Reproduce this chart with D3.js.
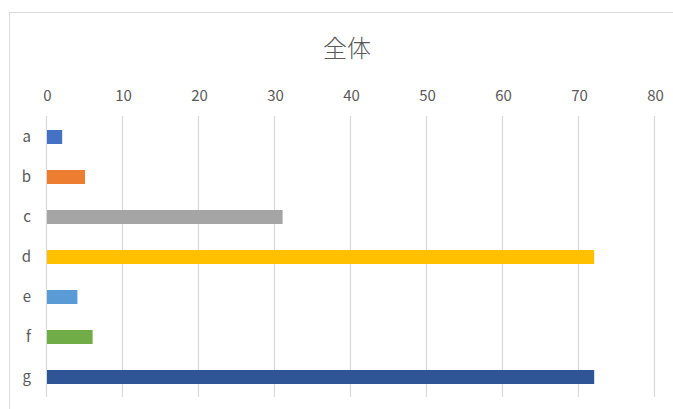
<!DOCTYPE html>
<html><head><meta charset="utf-8">
<script src="https://cdn.jsdelivr.net/npm/d3@7"></script>
<style>
html,body{margin:0;padding:0;background:#fff;}
svg{display:block;font-family:"Noto Sans CJK JP","Noto Sans",sans-serif;}
</style></head>
<body><svg id="c" width="673" height="409"></svg>
<script>
const categories = ["a","b","c","d","e","f","g"];
const values = [2,5,31,72,4,6,72];
const colors = ["#4472C4","#ED7D31","#A5A5A5","#FFC000","#5B9BD5","#70AD47","#2F5597"];
const tickValues = [0,10,20,30,40,50,60,70,80];
const title = "全体";

const svg = d3.select("#c");
// chart area border
svg.append("rect").attr("x",9.5).attr("y",12.5).attr("width",700).attr("height",420)
  .attr("fill","#fff").attr("stroke","#D9D9D9").attr("stroke-width",1);

const x = d3.scaleLinear().domain([0,80]).range([47,655]);
const y = d3.scaleBand().domain(categories).range([117,397]).paddingInner(0.65).paddingOuter(0.325);

// gridlines
svg.append("g").selectAll("line").data(tickValues).join("line")
  .attr("x1",d=>Math.round(x(d))-0.5).attr("x2",d=>Math.round(x(d))-0.5)
  .attr("y1",116).attr("y2",397)
  .attr("stroke","#D9D9D9").attr("stroke-width",1.2);

// top axis labels
const xAxis = d3.axisTop(x).tickValues(tickValues).tickSize(0).tickPadding(0);
const gx = svg.append("g").attr("transform","translate(0,101)").call(xAxis);
gx.select(".domain").remove();
gx.selectAll("text").attr("fill","#595959").attr("font-size","15px")
  .attr("font-family","'Noto Sans CJK JP',sans-serif");

// category axis
const yAxis = d3.axisLeft(y).tickSize(0).tickPadding(0);
const gy = svg.append("g").attr("transform","translate(31,0)").call(yAxis);
gy.select(".domain").remove();
gy.selectAll("text").attr("fill","#595959").attr("font-size","15px")
  .attr("font-family","'Noto Sans CJK JP',sans-serif");

// bars
svg.append("g").selectAll("rect").data(categories).join("rect")
  .attr("x",x(0)).attr("y",d=>y(d))
  .attr("width",(d,i)=>x(values[i])-x(0))
  .attr("height",y.bandwidth())
  .attr("fill",(d,i)=>colors[i]);

// title
svg.append("text").attr("x",347).attr("y",57).attr("text-anchor","middle")
  .attr("fill","#595959").attr("font-size","24px").attr("font-weight",300).text(title);
</script></body></html>
